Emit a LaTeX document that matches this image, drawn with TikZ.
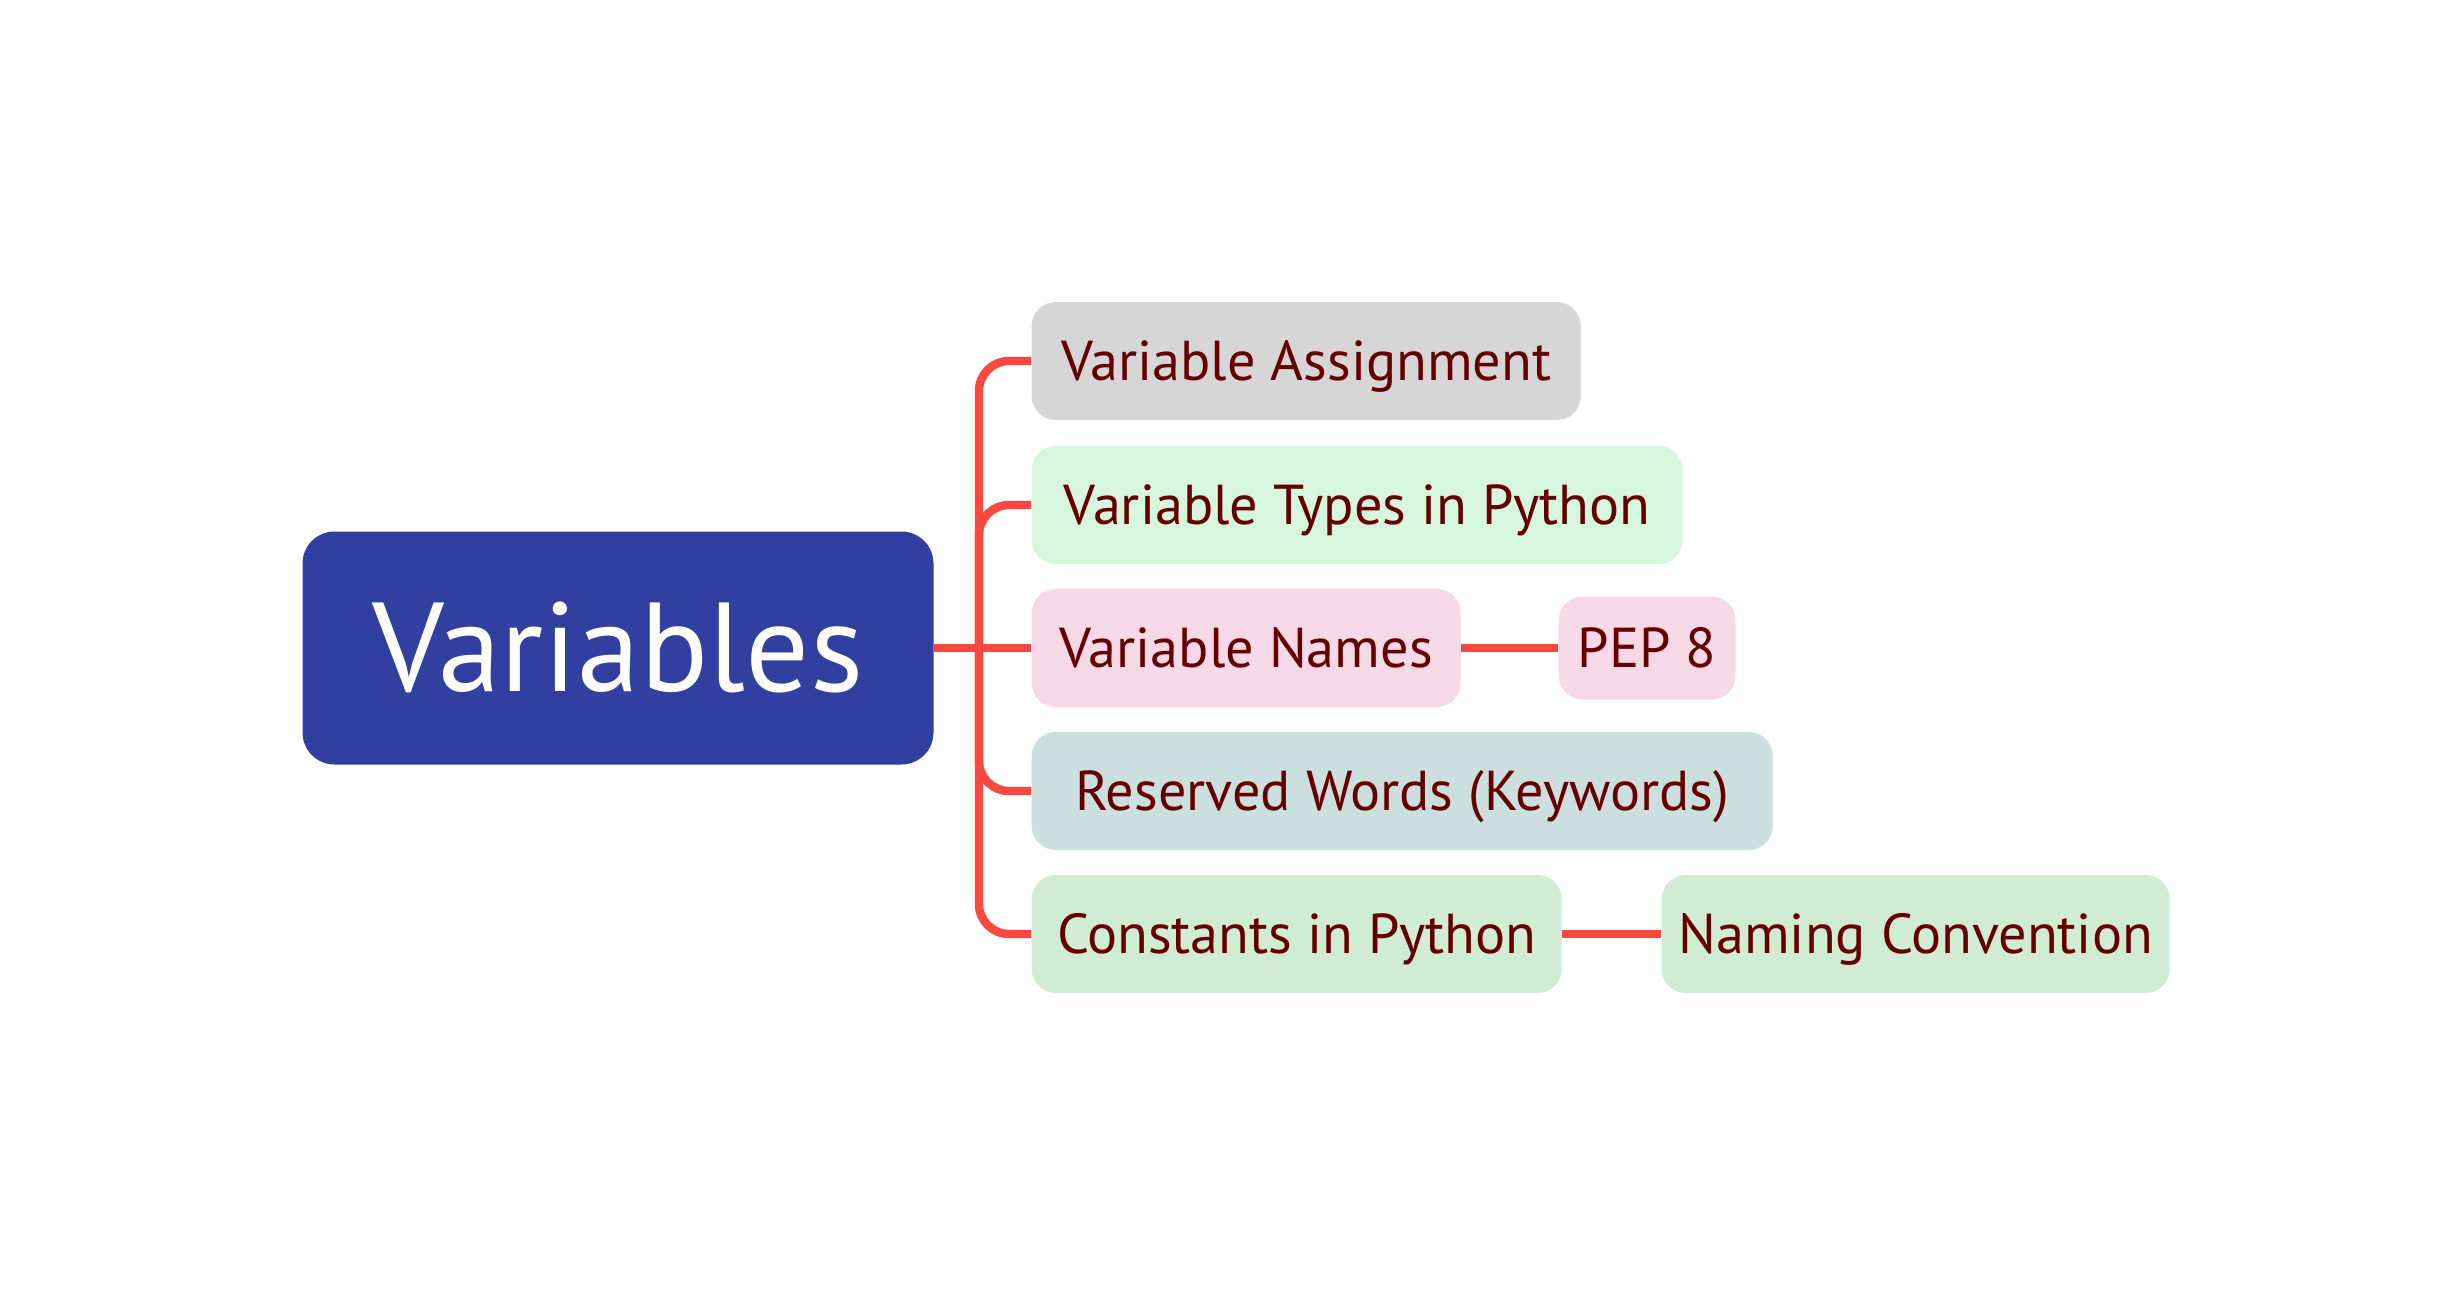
\documentclass[tikz,border=0pt]{standalone}
\usepackage{fontspec}
\setmainfont{PT Sans}
\usepackage{xcolor}
\usepackage{tikz}

\definecolor{rootblue}{HTML}{3140A0}
\definecolor{linered}{HTML}{FA4840}
\definecolor{textred}{HTML}{660000}
\definecolor{grayfill}{HTML}{D6D6D6}
\definecolor{mintfill}{HTML}{D6F7DE}
\definecolor{pinkfill}{HTML}{F6D8E6}
\definecolor{tealfill}{HTML}{CCDFDF}
\definecolor{greenfill}{HTML}{D0ECD2}

\begin{document}
\begin{tikzpicture}[topic/.style={rectangle, rounded corners=0.24cm, anchor=west, minimum height=1.18cm, inner sep=0pt, text=textred, font=\fontsize{16}{18}\selectfont, text height=11.2pt, text depth=0pt},
     branch/.style={draw=linered, line width=2.4pt}]
     \useasboundingbox (0,0) rectangle (24.6,-12.9);

     \node[rectangle, rounded corners=0.32cm, fill=rootblue, text=white, minimum width=6.31cm, minimum height=2.33cm, inner sep=0pt, font=\fontsize{36}{40}\selectfont, text height=25pt, text depth=0pt] (V) at (6.18,-6.48) {Variables};

     \node[topic, fill=grayfill, minimum width=5.49cm] (A) at (10.31,-3.61) {Variable Assignment};
     \node[topic, fill=mintfill, minimum width=6.51cm] (T) at (10.31,-5.05) {Variable Types in Python};
     \node[topic, fill=pinkfill, minimum width=4.29cm] (N) at (10.31,-6.48) {Variable Names};
     \node[topic, fill=pinkfill, minimum width=1.77cm, minimum height=1.03cm] (P) at (15.58,-6.48) {PEP 8};
     \node[topic, fill=tealfill, minimum width=7.41cm] (R) at (10.31,-7.91) {Reserved Words (Keywords)};
     \node[topic, fill=greenfill, minimum width=5.30cm] (C) at (10.31,-9.34) {Constants in Python};
     \node[topic, fill=greenfill, minimum width=5.08cm] (K) at (16.61,-9.34) {Naming Convention};

     \coordinate (fork) at (9.79,-6.48);

     \draw[branch] (V.east) -- (N.west);
     \draw[branch, rounded corners=0.3cm] (fork) |- (A.west);
     \draw[branch, rounded corners=0.3cm] (fork) |- (T.west);
     \draw[branch, rounded corners=0.3cm] (fork) |- (R.west);
     \draw[branch, rounded corners=0.3cm] (fork) |- (C.west);
     \draw[branch] (N.east) -- (P.west);
     \draw[branch] (C.east) -- (K.west);
     \end{tikzpicture}
\end{document}
